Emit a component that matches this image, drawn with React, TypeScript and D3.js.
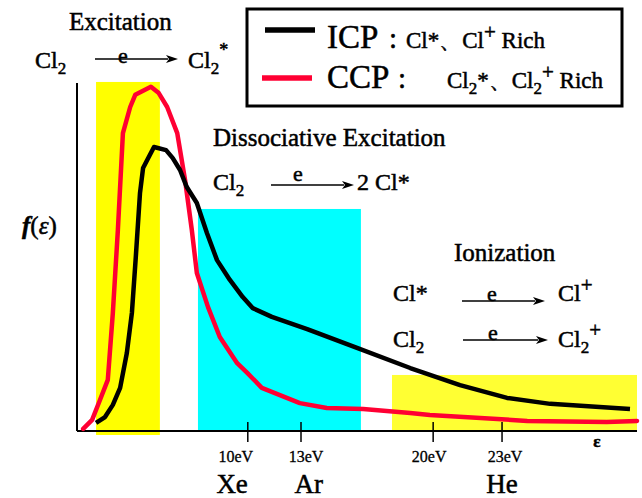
import React from 'react';
import * as d3 from 'd3';

const W = 642;
const H = 498;

// Electron energy distribution functions, arbitrary units
// (energy axis 0–100, f(ε) axis 0–100)
const icpEnergy = [3.4, 5.0, 6.4, 7.7, 8.9, 9.8, 10.5, 11.25, 11.8, 12.7, 13.75, 15.9, 17.1, 18.4, 19.6, 21.4, 23.2, 25.0, 27.3, 29.6, 31.4, 34.8, 41.1, 50.0, 59.5, 68.4, 76.8, 84.5, 98.75];
const icpDensity = [2.3, 4.0, 7.5, 12.4, 22.4, 33.9, 50.0, 68.4, 75.6, 78.4, 81.6, 80.7, 78.4, 75.0, 70.1, 65.5, 56.9, 49.1, 43.4, 38.5, 35.3, 32.8, 29.3, 23.9, 18.1, 13.2, 9.5, 7.8, 6.3];

const ccpEnergy = [1.1, 2.7, 4.1, 5.5, 6.4, 7.3, 8.2, 9.5, 10.4, 13.2, 14.6, 16.1, 17.9, 19.3, 20.5, 21.4, 23.4, 25.5, 28.6, 30.4, 33.0, 39.8, 44.6, 51.1, 59.5, 63.0, 80.4, 94.6, 100];
const ccpDensity = [0.6, 3.2, 8.9, 14.7, 33.9, 57.8, 85.6, 93.1, 96.6, 98.9, 97.1, 93.1, 85.6, 72.1, 57.8, 45.4, 35.6, 27.0, 19.5, 16.7, 12.4, 8.0, 6.6, 6.3, 5.2, 4.6, 2.9, 2.6, 2.9];

// Energy ticks
const tickEnergies = [30.5, 40.0, 63.6, 75.9];
const tickLabels = ['10eV', '13eV', '20eV', '23eV'];
const tickLabelShift = [-12, 5, -4, 3];

// Rare gases placed under the energy axis
const gasLabels = ['Xe', 'Ar', 'He'];
const gasEnergies = [27.7, 41.4, 75.9];

// Process regions
const bandNames = ['Excitation', 'Dissociative Excitation', 'Ionization'];
const bandStart = [3.4, 21.6, 56.25];
const bandEnd = [14.8, 50.7, 100];
const bandTop = [100.3, 63.8, 16.1];
const bandColors = ['#ffff00', '#00ffff', '#ffff33'];

const ICP_COLOR = '#000000';
const CCP_COLOR = '#ff0033';
const SERIF = 'Liberation Serif';

const x = d3.scaleLinear().domain([0, 100]).range([77, 637]);
const y = d3.scaleLinear().domain([0, 100]).range([431, 83]);

const line = d3
  .line<[number, number]>()
  .x((d) => x(d[0]))
  .y((d) => y(d[1]));

const icpPoints = icpEnergy.map((e, i) => [e, icpDensity[i]] as [number, number]);
const ccpPoints = ccpEnergy.map((e, i) => [e, ccpDensity[i]] as [number, number]);

type TProps = React.SVGProps<SVGTextElement> & { children?: React.ReactNode };
// Serif label with a hairline outline so the glyphs read a little heavier
function T(props: TProps) {
  return <text fontFamily={SERIF} fill="#000" stroke="#000" strokeWidth={0.5} {...props} />;
}

function Arrow({ x1, x2, yy }: { x1: number; x2: number; yy: number }) {
  const head = 12;
  return (
    <g>
      <line x1={x1} x2={x2 - head + 2} y1={yy} y2={yy} stroke="#000" strokeWidth={1.6} />
      <path d={`M${x2},${yy} L${x2 - head},${yy - 4} L${x2 - head + 3},${yy} L${x2 - head},${yy + 4} Z`} fill="#000" />
    </g>
  );
}

export default function App() {
  return (
    <svg
      width={W}
      height={H}
      viewBox={`0 0 ${W} ${H}`}
      style={{ position: 'absolute', left: 0, top: 0, background: '#fff' }}
    >
      {/* process regions */}
      {bandNames.map((name, i) => (
        <rect
          key={name}
          x={x(bandStart[i])}
          y={y(bandTop[i])}
          width={x(bandEnd[i]) - x(bandStart[i])}
          height={y(0) - y(bandTop[i]) + (i === 0 ? 4 : 1)}
          fill={bandColors[i]}
        />
      ))}

      {/* axes */}
      <line x1={x(0)} x2={x(0)} y1={y(100)} y2={y(0)} stroke="#000" strokeWidth={2} />
      <line x1={x(0)} x2={x(100)} y1={y(0)} y2={y(0)} stroke="#000" strokeWidth={2} />
      {tickEnergies.map((t, i) => (
        <g key={tickLabels[i]}>
          <line x1={x(t)} x2={x(t)} y1={y(0) - 9} y2={y(0) + 11} stroke="#000" strokeWidth={1.5} />
          <T x={x(t) + tickLabelShift[i]} y={462} fontSize={16} textAnchor="middle" strokeWidth={0.3}>
            {tickLabels[i]}
          </T>
        </g>
      ))}
      {gasLabels.map((g, i) => (
        <T key={g} x={x(gasEnergies[i])} y={493} fontSize={27} textAnchor="middle">
          {g}
        </T>
      ))}
      <T x={597} y={447} fontSize={17} fontWeight="bold" textAnchor="middle">
        ε
      </T>
      <T x={22} y={234} fontSize={25}>
        <tspan fontWeight="bold" fontStyle="italic">f</tspan>
        <tspan>(</tspan>
        <tspan fontStyle="italic">ε</tspan>
        <tspan>)</tspan>
      </T>

      {/* distributions */}
      <path d={line(ccpPoints) || ''} fill="none" stroke={CCP_COLOR} strokeWidth={4.5} strokeLinejoin="round" strokeLinecap="round" />
      <path d={line(icpPoints) || ''} fill="none" stroke={ICP_COLOR} strokeWidth={4.5} strokeLinejoin="round" strokeLinecap="butt" />

      {/* Excitation */}
      <T x={69} y={30} fontSize={25}>{bandNames[0]}</T>
      <T x={35} y={68} fontSize={24}>
        Cl<tspan fontSize={17} dy={6}>2</tspan>
      </T>
      <Arrow x1={95} x2={178} yy={59} />
      <T x={123} y={63} fontSize={22} textAnchor="middle">e</T>
      <T x={188} y={68} fontSize={24}>
        Cl<tspan fontSize={17} dy={6}>2</tspan>
        <tspan fontSize={18} dy={-18}>*</tspan>
      </T>

      {/* Dissociative excitation */}
      <T x={213} y={146} fontSize={25}>{bandNames[1]}</T>
      <T x={213} y={190} fontSize={24}>
        Cl<tspan fontSize={17} dy={6}>2</tspan>
      </T>
      <Arrow x1={271} x2={354} yy={185} />
      <T x={298} y={181} fontSize={22} textAnchor="middle">e</T>
      <T x={357} y={190} fontSize={24}>2 Cl*</T>

      {/* Ionization */}
      <T x={454} y={261} fontSize={25}>{bandNames[2]}</T>
      <T x={393} y={301} fontSize={24}>Cl*</T>
      <Arrow x1={462} x2={545} yy={301} />
      <T x={492} y={301} fontSize={22} textAnchor="middle">e</T>
      <T x={558} y={301} fontSize={24}>
        Cl<tspan fontSize={21} dy={-9}>+</tspan>
      </T>
      <T x={393} y={347} fontSize={24}>
        Cl<tspan fontSize={17} dy={6}>2</tspan>
      </T>
      <Arrow x1={463} x2={548} yy={340} />
      <T x={493} y={340} fontSize={22} textAnchor="middle">e</T>
      <T x={558} y={347} fontSize={24}>
        Cl<tspan fontSize={17} dy={6}>2</tspan>
        <tspan fontSize={21} dy={-16}>+</tspan>
      </T>

      {/* legend */}
      <rect x={247} y={9} width={375} height={97} fill="#fff" stroke="#000" strokeWidth={3} />
      <line x1={265} x2={315} y1={30} y2={30} stroke={ICP_COLOR} strokeWidth={5.5} />
      <line x1={262} x2={312} y1={78} y2={78} stroke={CCP_COLOR} strokeWidth={5.5} />
      <T x={327} y={48} fontSize={33}>ICP</T>
      <T x={389} y={48} fontSize={29}>:</T>
      <T x={406} y={48} fontSize={23}>
        Cl*、Cl<tspan fontSize={21} dy={-9}>+</tspan>
        <tspan dy={9}> Rich</tspan>
      </T>
      <T x={327} y={88} fontSize={33}>CCP</T>
      <T x={398} y={88} fontSize={29}>:</T>
      <T x={447} y={88} fontSize={23}>
        Cl<tspan fontSize={17} dy={6}>2</tspan>
        <tspan dy={-6}>*、Cl</tspan>
        <tspan fontSize={17} dy={6}>2</tspan>
        <tspan fontSize={21} dy={-15}>+</tspan>
        <tspan dy={9}> Rich</tspan>
      </T>
    </svg>
  );
}
